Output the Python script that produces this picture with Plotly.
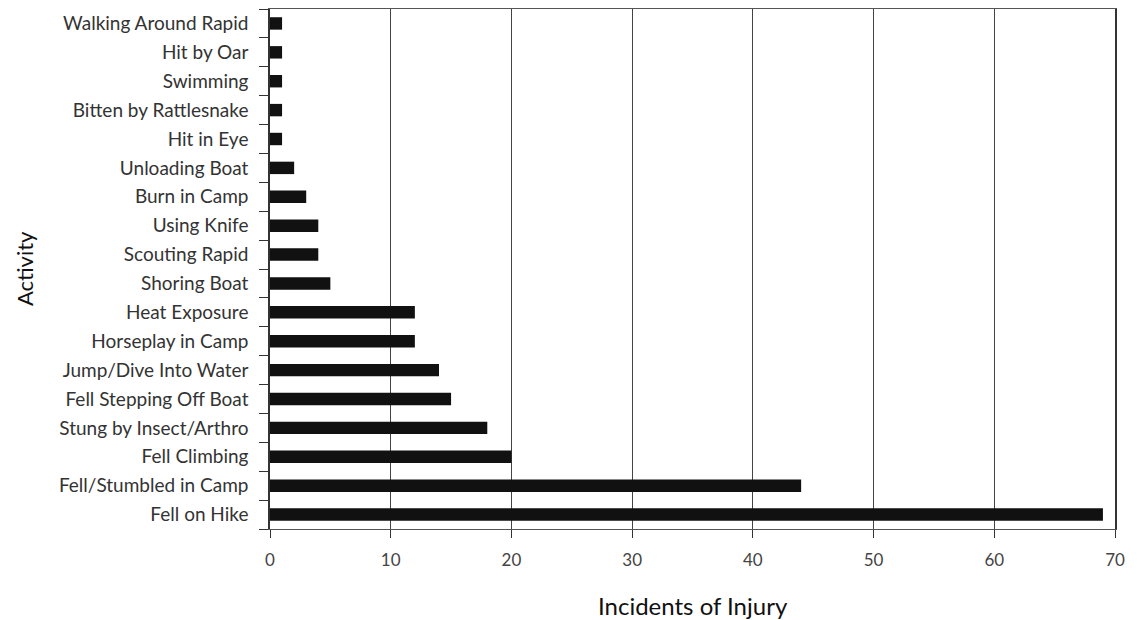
import plotly.graph_objects as go

activities = [
    "Fell on Hike", "Fell/Stumbled in Camp", "Fell Climbing", "Stung by Insect/Arthro",
    "Fell Stepping Off Boat", "Jump/Dive Into Water", "Horseplay in Camp", "Heat Exposure",
    "Shoring Boat", "Scouting Rapid", "Using Knife", "Burn in Camp", "Unloading Boat",
    "Hit in Eye", "Bitten by Rattlesnake", "Swimming", "Hit by Oar", "Walking Around Rapid",
]
incidents = [69, 44, 20, 18, 15, 14, 12, 12, 5, 4, 4, 3, 2, 1, 1, 1, 1, 1]
x_ticks = [0, 10, 20, 30, 40, 50, 60, 70]

FONT = "Lato, DejaVu Sans, sans-serif"

fig = go.Figure(go.Bar(
    x=incidents, y=activities, orientation="h",
    marker=dict(color="#111111", line=dict(width=0)),
))

fig.update_layout(
    width=1129, height=612,
    margin=dict(l=262, r=22, t=1, b=91),
    paper_bgcolor="white", plot_bgcolor="white",
    bargap=0.57, showlegend=False,
    font=dict(family=FONT, color="#222222", size=15),
    annotations=[
        dict(text="Activity", xref="paper", yref="paper", x=-0.291, y=0.5,
             xanchor="center", yanchor="middle", textangle=-90, showarrow=False,
             font=dict(size=22, color="#111111", family=FONT)),
        dict(text="Incidents of Injury", xref="paper", yref="paper", x=0.5, y=-0.147,
             xanchor="center", yanchor="middle", showarrow=False,
             font=dict(size=24, color="#111111", family=FONT)),
    ],
)
fig.update_xaxes(
    range=[0, 70], tickvals=x_ticks, ticktext=[str(v) for v in x_ticks],
    showgrid=True, gridcolor="#444444", gridwidth=1,
    showline=True, linecolor="#555555", linewidth=1, mirror=True,
    ticks="outside", ticklen=8, tickcolor="#333333",
    ticklabelstandoff=8,
    tickfont=dict(size=17, color="#444444", family=FONT),
    zeroline=False, automargin=False,
)
fig.update_yaxes(
    categoryorder="array", categoryarray=activities,
    showline=True, linecolor="#333333", linewidth=1.5, mirror=True,
    ticks="outside", ticklen=9, tickcolor="#333333", tickson="boundaries",
    ticklabelstandoff=16,
    tickfont=dict(size=19, color="#333333", family=FONT),
    showgrid=False, automargin=False,
)

fig.write_html("out.html")
